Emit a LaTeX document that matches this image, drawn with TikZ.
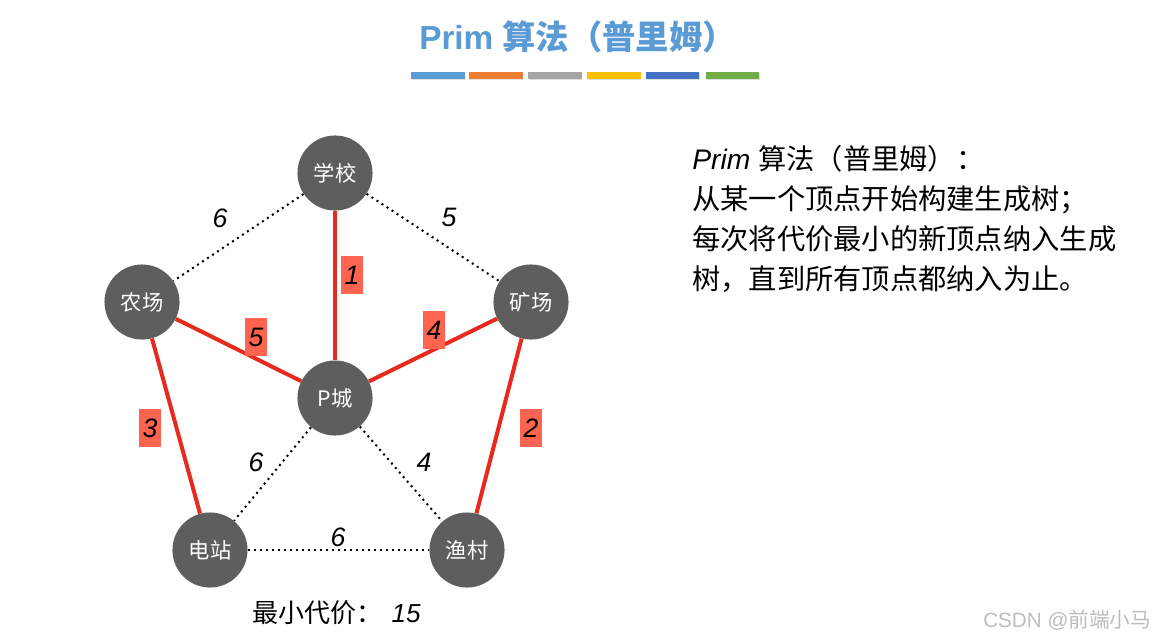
\documentclass[tikz,border=0pt]{standalone}
\usepackage{fontspec}
\setmainfont{Liberation Sans}
\newfontfamily\cjk{Noto Sans CJK SC}
\usetikzlibrary{shadows}
\definecolor{titleblue}{HTML}{5B9BD5}
\definecolor{barA}{HTML}{5B9BD5}
\definecolor{barB}{HTML}{ED7D31}
\definecolor{barC}{HTML}{A5A5A5}
\definecolor{barD}{HTML}{FFC000}
\definecolor{barE}{HTML}{4472C4}
\definecolor{barF}{HTML}{70AD47}
\definecolor{nodegray}{HTML}{5E5E5E}
\definecolor{treered}{HTML}{E8291D}
\definecolor{boxred}{HTML}{FF6450}
\definecolor{wmgray}{HTML}{BDBDBD}
\begin{document}
\begin{tikzpicture}[x=0.75pt,y=-0.75pt,
  vertex/.style={circle,fill=nodegray,minimum size=56.3pt,inner sep=0pt,text=white,font=\cjk\fontsize{16}{18}\selectfont},
  tree/.style={draw=treered,line width=3pt},
  other/.style={draw=black,line width=1.5pt,dash pattern=on 1.5pt off 3pt},
  costbox/.style={fill=boxred,minimum width=16.5pt,minimum height=28.5pt,inner sep=0pt,font=\itshape\fontsize{20}{24}\selectfont},
  cost/.style={inner sep=0pt,font=\itshape\fontsize{20}{24}\selectfont},
  colorbar/.style={minimum width=40pt,minimum height=5.2pt,inner sep=0pt,drop shadow={shadow xshift=0.6pt,shadow yshift=-0.9pt,opacity=0.25}},
  desc/.style={anchor=base west,inner sep=0pt,font=\fontsize{21.2}{25}\selectfont},
]
\useasboundingbox[fill=white] (0,0) rectangle (1160,640);

% title
\node[anchor=base west,inner sep=0pt,text=titleblue,font=\bfseries\fontsize{25}{29}\selectfont] (title) at (419,49) {Prim {\cjk\bfseries 算法（普里姆）}};
\node[colorbar,fill=barA] (b1) at (438,75.5) {};
\node[colorbar,fill=barB] (b2) at (496,75.5) {};
\node[colorbar,fill=barC] (b3) at (555,75.5) {};
\node[colorbar,fill=barD] (b4) at (614,75.5) {};
\node[colorbar,fill=barE] (b5) at (672.5,75.5) {};
\node[colorbar,fill=barF] (b6) at (732.5,75.5) {};

% vertices
\node[vertex] (xx) at (335,173) {学校};
\node[vertex] (nc) at (142,302) {农场};
\node[vertex] (kc) at (531,302) {矿场};
\node[vertex] (pc) at (335,398) {P城};
\node[vertex] (dz) at (210,550) {电站};
\node[vertex] (yc) at (467,550) {渔村};

% non-tree edges
\draw[other] (xx) -- (nc);
\draw[other] (xx) -- (kc);
\draw[other] (pc) -- (dz);
\draw[other] (pc) -- (yc);
\draw[other] (dz) -- (yc);

% tree edges
\draw[tree] (xx) -- (pc);
\draw[tree] (nc) -- (pc);
\draw[tree] (kc) -- (pc);
\draw[tree] (nc) -- (dz);
\draw[tree] (kc) -- (yc);

% costs
\node[cost] (c1) at (220,218) {6};
\node[cost] (c2) at (449,217) {5};
\node[cost] (c3) at (256,462) {6};
\node[cost] (c4) at (424,462) {4};
\node[cost] (c5) at (338,537) {6};
\node[costbox] (t1) at (352,275) {1};
\node[costbox] (t2) at (256,337) {5};
\node[costbox] (t3) at (434,330) {4};
\node[costbox] (t4) at (150,428) {3};
\node[costbox] (t5) at (531,428) {2};

% total
\node[anchor=base west,inner sep=0pt,font=\fontsize{19.5}{23}\selectfont] (total) at (252,622) {{\cjk 最小代价：}\hspace{7pt}{\itshape 15}};

% description
\node[desc] (d1) at (692,169) {{\itshape Prim} {\cjk 算法（普里姆）：}};
\node[desc] (d2) at (692,209) {\cjk 从某一个顶点开始构建生成树；};
\node[desc] (d3) at (692,249) {\cjk 每次将代价最小的新顶点纳入生成};
\node[desc] (d4) at (692,289) {\cjk 树，直到所有顶点都纳入为止。};

% watermark
\node[anchor=base west,inner sep=0pt,text=wmgray,font=\fontsize{15.5}{18}\selectfont] (wm) at (983,627) {CSDN @{\cjk 前端小马}};
\end{tikzpicture}
\end{document}
